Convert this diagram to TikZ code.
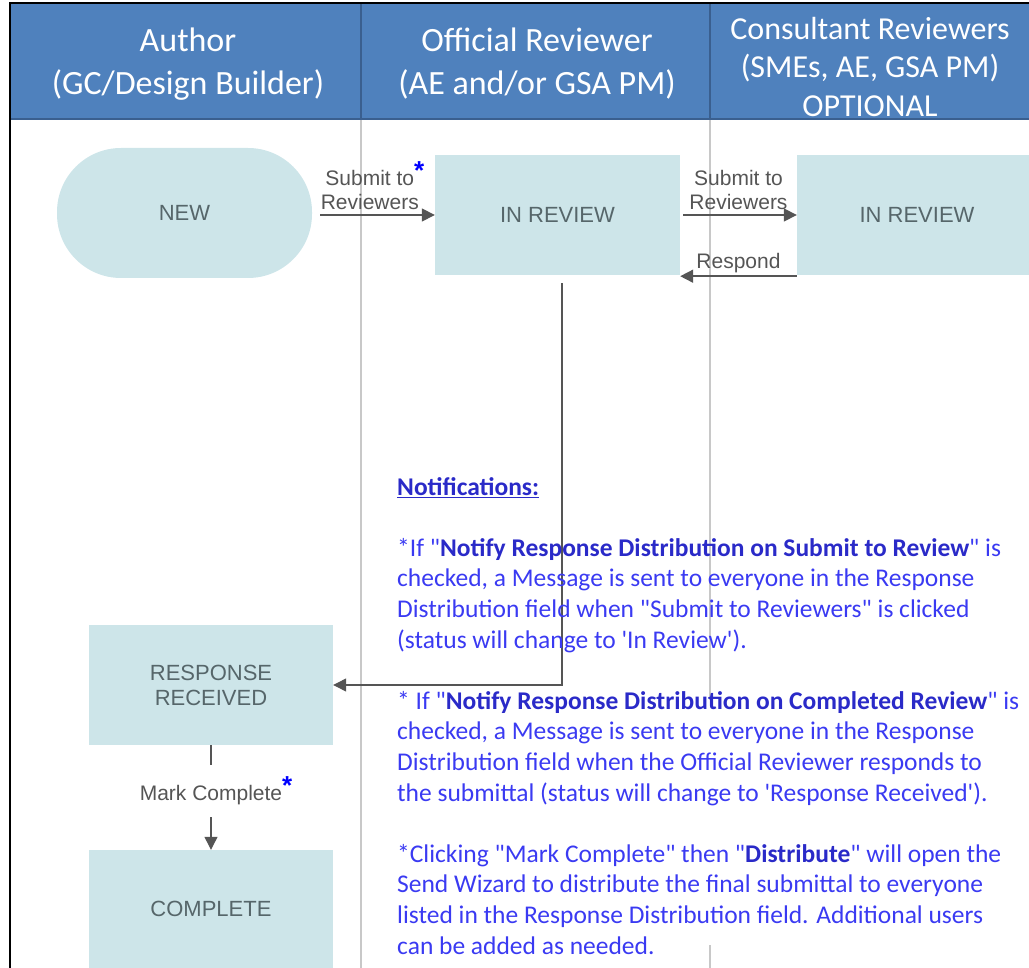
\documentclass[tikz,border=0pt]{standalone}
\usepackage{fontspec}
\setmainfont{Carlito}[Ligatures=TeXOff]
\newfontfamily\boxfont{Liberation Sans}
\usetikzlibrary{arrows.meta}
\definecolor{headblue}{HTML}{4F81BD}
\definecolor{headline}{HTML}{3A5F8F}
\definecolor{statefill}{HTML}{CDE5E9}
\definecolor{statetext}{HTML}{56666A}
\definecolor{flowgray}{HTML}{555555}
\definecolor{lanegray}{HTML}{C8C8C8}
\definecolor{noteblue}{HTML}{3A3AF2}
\definecolor{notebold}{HTML}{2A2AC8}
\tikzset{
    state/.style = {fill = statefill, text = statetext, align = center,
        font = \boxfont\fontsize{22}{25}\selectfont, inner sep = 0pt},
    flow/.style = {draw = flowgray, line width = 1.6pt,
        -{Triangle[length = 13pt, width = 13pt]}},
    flowlabel/.style = {text = flowgray, align = center,
        font = \boxfont\fontsize{21}{24}\selectfont, inner sep = 1pt},
    lanetitle/.style = {text = white, align = center, inner sep = 0pt},
}
\newcommand{\flowstar}{\textcolor{blue}{\fontsize{26}{26}\selectfont\textbf{*}}}
\begin{document}
\begin{tikzpicture}[x = 1pt, y = -1pt]
                \useasboundingbox (0, 0) rectangle (1029, 968);
                \clip (0, 0) rectangle (1029, 968);
                % lanes
                \fill [headblue] (11, 4) rectangle (1029, 119);
                \draw [headline, line width = 2pt] (11, 119) -- (1029, 119);
                \draw [lanegray, line width = 1.2pt]
                    (361, 120) -- (361, 968)
                    (710, 120) -- (710, 700)
                    (710, 945) -- (710, 968)
                ;
                \draw [headline, line width = 1.5pt]
                    (361, 4) -- (361, 119)
                    (710, 4) -- (710, 119)
                ;
                \draw [black, line width = 2pt] (1029, 3) -- (10, 3) -- (10, 968);
                \node [lanetitle, font = \fontsize{34}{43}\selectfont]
                    (author) at (188, 64) {Author\\(GC/Design Builder)};
                \node [lanetitle, font = \fontsize{34}{43}\selectfont]
                    (official) at (537, 64) {Official Reviewer\\(AE and/or GSA PM)};
                \node [lanetitle, font = \fontsize{32}{38.5}\selectfont]
                    (consult) at (870, 67) {Consultant Reviewers\\(SMEs, AE, GSA PM)\\OPTIONAL};
                % states
                \node [state, minimum width = 255pt, minimum height = 130pt,
                    rounded corners = 64pt] (new) at (184.5, 213) {NEW};
                \node [state, minimum width = 245pt, minimum height = 120pt]
                    (inrev) at (557.5, 215) {IN REVIEW};
                \node [state, minimum width = 240pt, minimum height = 120pt]
                    (consrev) at (917, 215) {IN REVIEW};
                \node [state, minimum width = 244pt, minimum height = 120pt]
                    (received) at (211, 685) {RESPONSE\\RECEIVED};
                \node [state, minimum width = 244pt, minimum height = 118pt]
                    (complete) at (211, 909) {COMPLETE};
                % transitions
                \draw [flow, shorten < = 8pt] (new.east |- inrev.west) -- (inrev.west)
                    node [flowlabel, pos = 0.47, above = 3pt] {Submit to\rlap{\raisebox{6pt}{\flowstar}}\\Reviewers};
                \draw [flow, shorten < = 3pt] (inrev.east) -- (consrev.west)
                    node [flowlabel, midway, above = 3pt] {Submit to\\Reviewers};
                \draw [flow] ([yshift = -1pt]consrev.south west) -- ([yshift = -1pt]inrev.south east)
                    node [flowlabel, midway, above = 2pt] {Respond};
                \draw [flow, line width = 1.2pt] ([xshift = 4.5pt, yshift = -8pt]inrev.south) |- (received.east);
                \draw [flow, line width = 1.2pt] (received.south) -- (complete.north)
                    node [flowlabel, pos = 0.44, fill = white, inner ysep = 12pt]
                    {Mark Complete\rlap{\raisebox{6pt}{\flowstar}}};
                % notes
                \node [anchor = north west, inner sep = 0pt, align = left, text = noteblue,
                    font = \fontsize{25.5}{30.6}\selectfont] (notes) at (397, 477)
                    {\textcolor{notebold}{\textbf{\underline{Notifications:}}}\\[30.6pt]
                    *If "\textcolor{notebold}{\textbf{Notify Response Distribution on Submit to Review}}" is\\
                    checked, a Message is sent to everyone in the Response\\
                    Distribution field when "Submit to Reviewers" is clicked\\
                    (status will change to 'In Review').\\[30.6pt]
                    * If "\textcolor{notebold}{\textbf{Notify Response Distribution on Completed Review}}" is\\
                    checked, a Message is sent to everyone in the Response\\
                    Distribution field when the Official Reviewer responds to\\
                    the submittal (status will change to 'Response Received').\\[30.6pt]
                    *Clicking "Mark Complete" then "\textcolor{notebold}{\textbf{Distribute}}" will open the\\
                    Send Wizard to distribute the final submittal to everyone\\
                    listed in the Response Distribution field. Additional users\\
                    can be added as needed.};
            \end{tikzpicture}
\end{document}
